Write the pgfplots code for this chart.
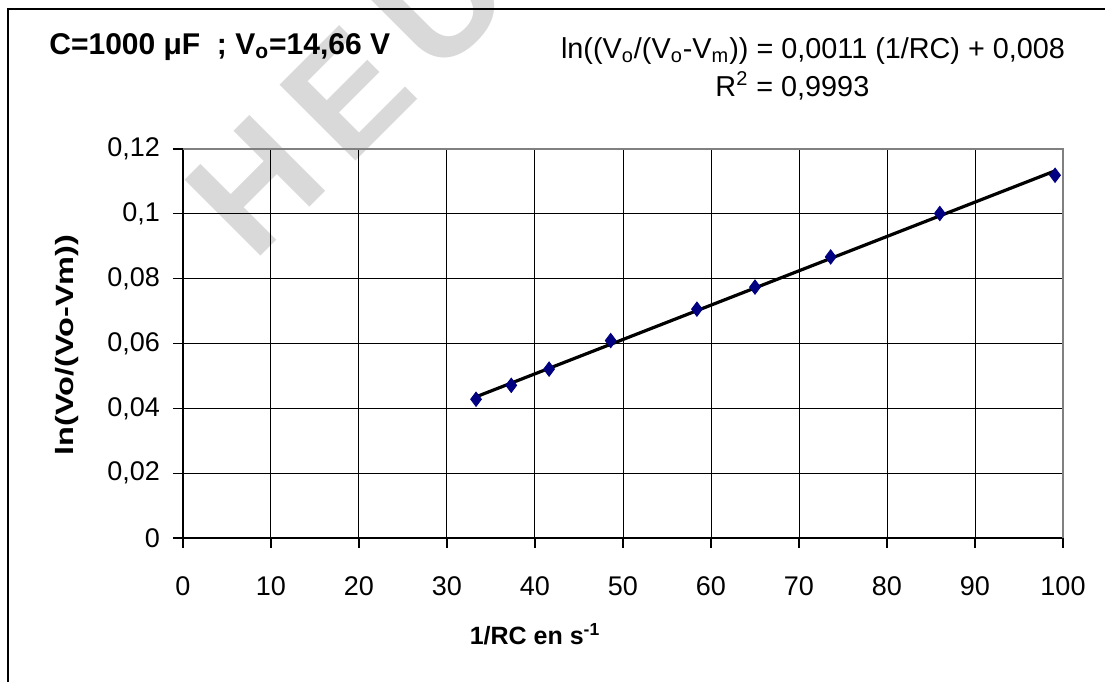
\documentclass[border=0pt]{standalone}
\usepackage{pgfplots}
\usepackage{pgfplotstable}
\pgfplotsset{compat=1.18}
\usepackage{fontspec}
\setmainfont{Liberation Sans}

\pgfplotstableread{
x y
33.3 0.0428
37.3 0.0471
41.6 0.0521
48.6 0.0609
58.4 0.0706
65.0 0.0774
73.6 0.0867
86.0 0.1001
99.1 0.1119
}\datatable

\begin{document}
\begin{tikzpicture}[x=1pt, y=1pt]
  \useasboundingbox (-91.5,-72) rectangle (461,269);
  % watermark behind the chart
  \begin{scope}
    \clip (-91.5,-72) rectangle (461,269);
    \node[rotate=45, text=black!15, font=\bfseries\fontsize{78}{78}\selectfont\addfontfeatures{LetterSpace=14}, anchor=base west, inner sep=0pt] at (35,137) {HEU};
  \end{scope}
  \draw[line width=1pt] (-87.5,-72) -- (-87.5,264.5) -- (461,264.5);
  \begin{axis}[
    at={(0,0)}, anchor=origin,
    scale only axis, width=440pt, height=194.5pt,
    xmin=0, xmax=100, ymin=0, ymax=0.12,
    xtick={0,10,...,100}, ytick={0,0.02,...,0.12},
    axis x line*=bottom, axis y line*=left,
    grid=major, major grid style={black, line width=0.5pt},
    axis line style={black, line width=0.6pt},
    tick align=outside, tick style={black, line width=0.6pt}, major tick length=5pt,
    tick label style={font=\fontsize{13.5}{15}\selectfont},
    /pgf/number format/assume math mode=true,
    /pgf/number format/use comma,
    yticklabel style={/pgf/number format/fixed, /pgf/number format/precision=2, xshift=-3pt},
    xticklabel style={yshift=-11pt},
    scaled y ticks=false,
    clip=false,
  ]
    \draw[gray, line width=0.8pt] (rel axis cs:0,1) -- (rel axis cs:1,1) -- (rel axis cs:1,0);
    \addplot[only marks, mark=diamond*, mark size=3.6pt, color={rgb,255:red,0;green,0;blue,128}] table[x=x, y=y] {\datatable};
    \addplot[no marks, black, line width=1.6pt] table[x=x, y={create col/linear regression={y=y}}] {\datatable};
  \end{axis}
  \node[anchor=mid west, inner sep=0pt, font=\bfseries\fontsize{15}{17}\selectfont] at (-67,244.5) {C=1000 μF\ \ ; V\textsubscript{o}=14,66 V};
  \node[anchor=mid east, inner sep=0pt, font=\fontsize{14.4}{16}\selectfont] at (441.2,242.5) {ln((V\textsubscript{o}/(V\textsubscript{o}-V\textsubscript{m})) = 0,0011 (1/RC) + 0,008};
  \node[anchor=mid, inner sep=0pt, font=\fontsize{14.4}{16}\selectfont] at (304.7,223.5) {R\textsuperscript{2} = 0,9993};
  \node[rotate=90, xscale=1.3, font=\bfseries\fontsize{12.5}{14}\selectfont] at (-58,96.5) {ln(Vo/(Vo-Vm))};
  \node[font=\bfseries\fontsize{12.5}{14}\selectfont] at (176,-48) {1/RC en s\textsuperscript{-1}};
\end{tikzpicture}
\end{document}
